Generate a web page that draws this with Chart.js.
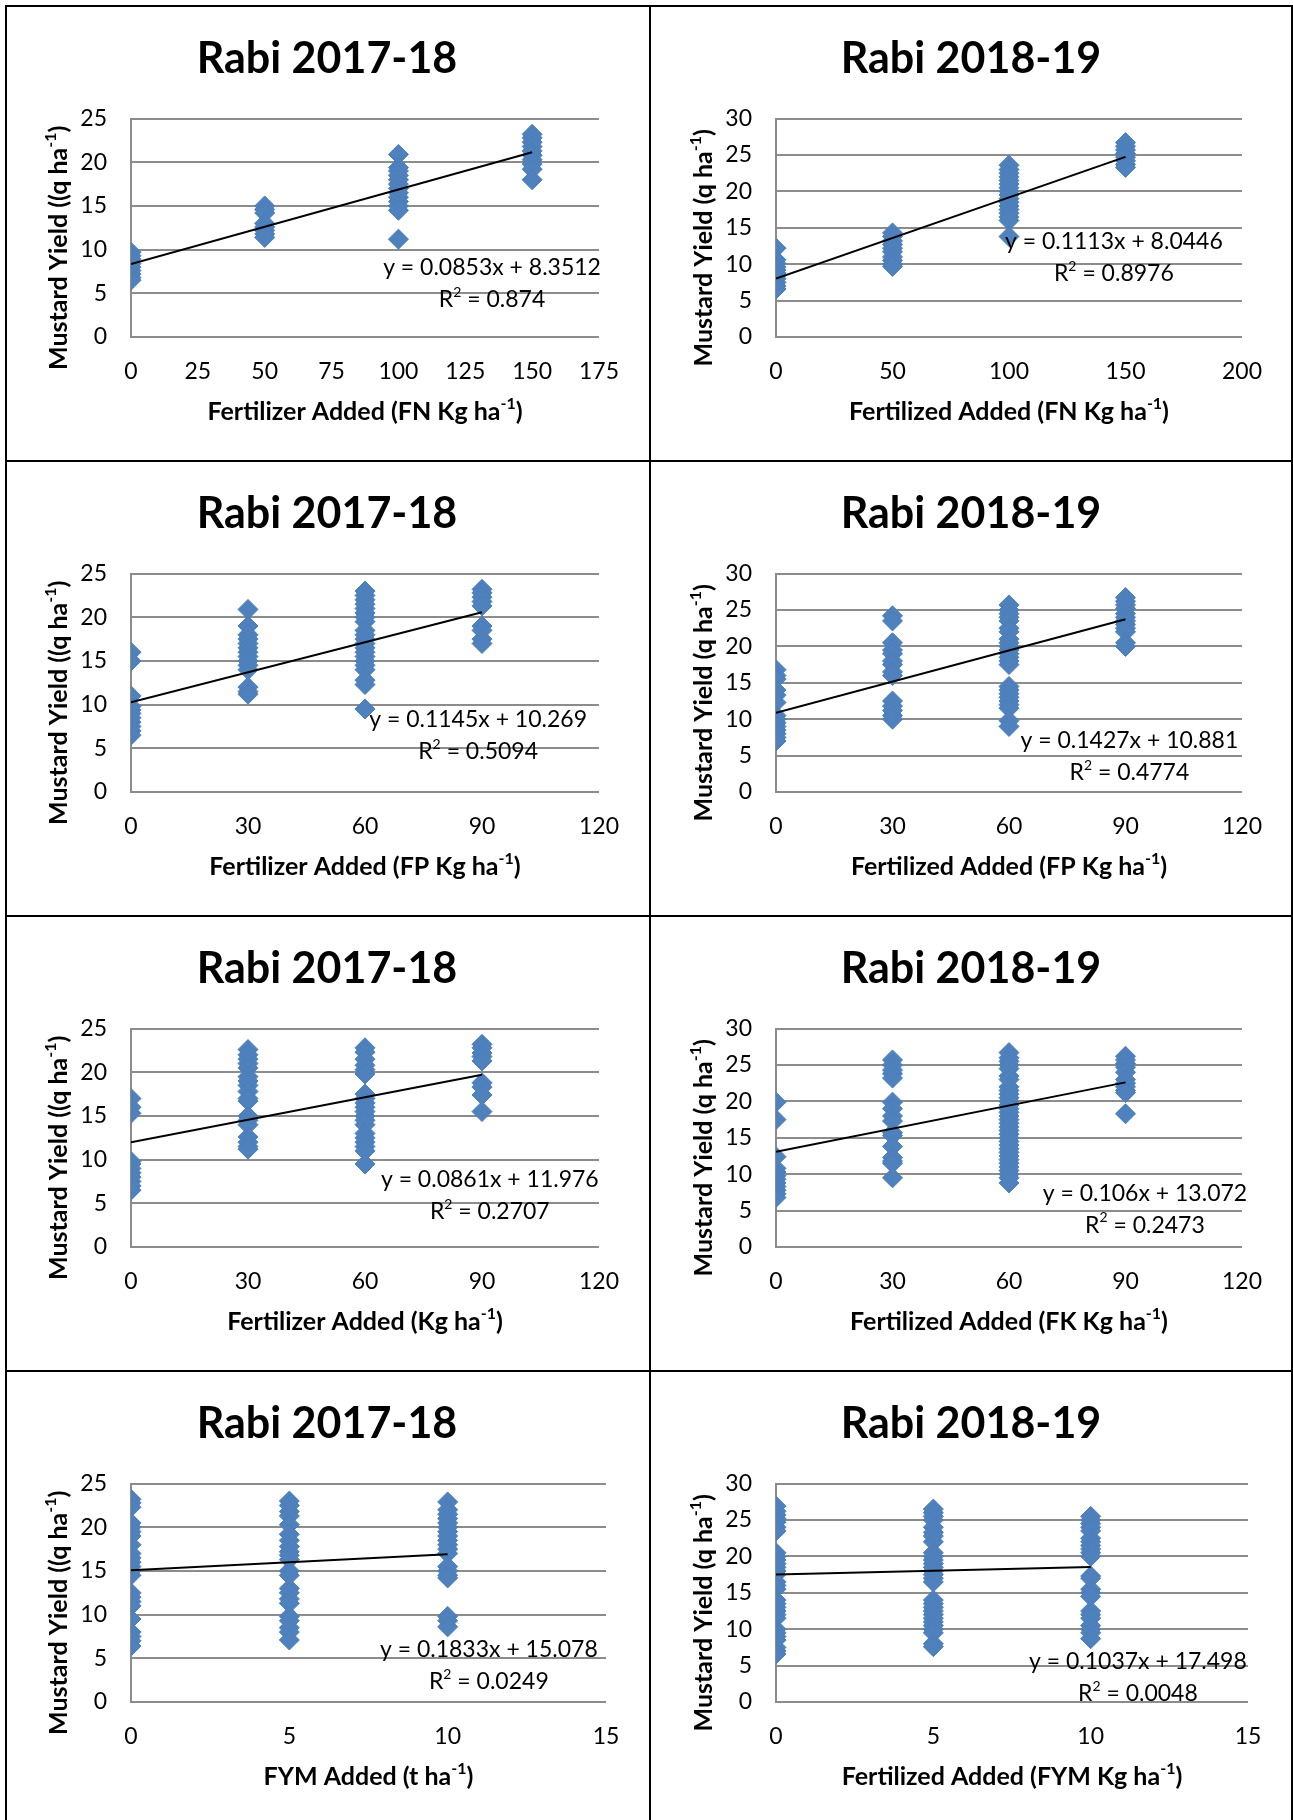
<!DOCTYPE html>
<html>
<head>
<meta charset="utf-8">
<script src="https://cdn.jsdelivr.net/npm/chart.js@4.4.0/dist/chart.umd.min.js"></script>
<style>
body{margin:0;background:#fff;width:1293px;height:1820px;overflow:hidden;position:relative}
.cell{position:absolute;border:2px solid #000;box-sizing:border-box}
canvas{position:absolute}
</style>
</head>
<body>
<script>
// yields (q/ha)

// N, 2017-18
const nLevels = [0, 50, 100, 150]
const n1718 = [
    [9.7, 9.3, 8.9, 8.4, 8.0, 7.6, 7.2, 6.8, 6.5],
    [15.0, 14.6, 14.2, 13.0, 12.6, 12.2, 11.8, 11.4],
    [20.9, 19.4, 19.0, 18.5, 18.0, 17.5, 17.0, 16.5, 16.0, 15.5, 15.0, 14.5, 11.2],
    [23.2, 22.8, 22.3, 21.8, 21.3, 20.8, 20.3, 19.8, 19.2, 18.0]
]
// N, 2018-19
const n1819 = [
    [12.2, 10.6, 10.1, 9.6, 9.2, 8.8, 8.4, 8.0, 7.5, 7.0, 6.6],
    [14.3, 13.8, 13.2, 12.7, 12.2, 11.7, 11.0, 10.5, 10.0, 9.7],
    [23.6, 23.0, 22.5, 22.0, 21.5, 21.0, 20.5, 20.0, 19.5, 19.0, 18.5, 18.0, 17.5, 17.0, 16.5, 16.0, 13.8],
    [26.7, 26.2, 25.7, 25.2, 24.7, 24.2, 23.7, 23.3]
]
// P and K levels
const pkLevels = [0, 30, 60, 90]
const p1718 = [
    [16.0, 15.0, 11.0, 9.8, 9.4, 9.0, 8.5, 8.0, 7.5, 7.0, 6.5],
    [20.9, 19.0, 18.0, 17.5, 17.0, 16.5, 16.0, 15.5, 15.0, 14.5, 14.0, 12.0, 11.5, 11.2],
    [23.0, 22.5, 22.0, 21.5, 21.0, 20.5, 20.0, 19.5, 18.5, 18.0, 17.5, 17.0, 16.5, 16.0, 15.5, 15.0, 14.5, 14.0, 12.8, 12.3, 9.5],
    [23.2, 22.8, 22.3, 21.8, 21.3, 19.0, 18.5, 17.5, 17.0]
]
const p1819 = [
    [16.8, 16.0, 15.5, 14.0, 13.3, 12.3, 10.5, 10.0, 9.5, 9.0, 8.5, 8.0, 7.5, 7.0],
    [24.2, 23.5, 20.5, 19.5, 19.0, 18.0, 17.5, 16.5, 16.0, 12.5, 11.8, 11.2, 10.5, 10.0],
    [25.7, 25.0, 24.5, 24.0, 23.5, 22.5, 22.0, 21.0, 20.5, 20.0, 19.5, 19.0, 18.5, 18.0, 17.5, 14.5, 14.0, 13.5, 13.0, 12.5, 12.0, 11.5, 9.8, 9.0],
    [26.7, 26.2, 25.7, 25.2, 24.5, 24.0, 23.5, 23.0, 22.5, 22.0, 20.5, 20.0]
]
const k1718 = [
    [17.0, 16.0, 15.3, 9.8, 9.5, 9.0, 8.5, 8.0, 7.5, 7.0, 6.5],
    [22.6, 22.0, 21.5, 21.0, 20.5, 19.5, 19.0, 18.5, 17.8, 17.0, 16.7, 15.0, 14.5, 14.0, 12.6, 12.0, 11.5, 11.2],
    [22.8, 22.3, 21.5, 20.8, 20.3, 19.8, 17.5, 17.0, 16.5, 16.0, 15.5, 15.0, 14.5, 14.0, 13.0, 12.5, 12.0, 11.5, 11.0, 9.5],
    [23.2, 22.8, 22.2, 21.8, 21.3, 18.8, 18.3, 17.4, 15.5]
]
const k1819 = [
    [19.9, 17.5, 12.4, 10.8, 10.3, 9.8, 9.3, 8.8, 8.3, 7.8, 7.3, 6.8],
    [25.7, 25.0, 24.3, 23.8, 23.2, 19.9, 19.0, 18.0, 17.3, 15.7, 15.3, 13.8, 12.3, 11.8, 11.5, 9.5],
    [26.7, 26.0, 25.5, 25.0, 24.5, 23.5, 23.0, 22.0, 21.5, 21.0, 20.5, 20.0, 19.5, 19.0, 18.5, 18.0, 17.5, 17.0, 16.5, 16.0, 15.5, 15.0, 14.5, 14.0, 13.5, 13.0, 12.5, 12.0, 11.5, 11.0, 10.5, 10.0, 9.5, 8.8],
    [26.2, 25.7, 25.2, 24.7, 24.0, 23.0, 22.5, 22.0, 21.5, 21.2, 18.3]
]
// FYM
const fymLevels = [0, 5, 10]
const fym1718 = [
    [23.2, 22.8, 22.3, 20.5, 20.0, 19.5, 19.0, 18.0, 17.0, 16.5, 16.0, 15.5, 15.0, 14.5, 12.5, 12.0, 11.5, 11.0, 9.5, 8.0, 7.5, 7.0, 6.4],
    [23.0, 22.5, 21.8, 21.3, 20.3, 19.2, 18.5, 17.8, 17.2, 16.8, 16.3, 15.0, 14.5, 13.0, 12.5, 11.8, 11.3, 9.8, 9.3, 8.5, 8.0, 7.1],
    [22.9, 22.0, 21.5, 21.0, 20.5, 20.0, 19.5, 19.0, 18.5, 18.0, 17.5, 17.0, 15.5, 15.0, 14.5, 14.2, 9.8, 9.3, 8.6]
]
const fym1819 = [
    [26.9, 26.2, 25.7, 25.2, 24.7, 24.0, 23.5, 20.5, 20.0, 19.5, 19.0, 18.5, 18.0, 17.5, 16.5, 16.0, 15.5, 14.0, 13.5, 13.0, 12.5, 12.0, 11.5, 10.0, 9.5, 9.0, 8.5, 7.5, 7.0, 6.6],
    [26.5, 26.0, 25.5, 25.0, 24.0, 23.3, 22.8, 22.0, 20.5, 20.0, 19.5, 19.0, 18.5, 18.0, 17.5, 17.0, 16.5, 14.0, 13.5, 13.0, 12.5, 12.0, 11.5, 11.0, 10.5, 10.0, 9.5, 8.0, 7.6],
    [25.5, 25.0, 24.5, 24.0, 23.5, 22.5, 22.0, 21.5, 21.0, 20.5, 20.0, 17.3, 17.0, 15.5, 15.0, 14.5, 12.5, 12.0, 11.5, 10.5, 10.0, 9.5, 8.7]
]

// trendline fits as printed on the charts: [slope, intercept]
const fits = [[0.0853, 8.3512], [0.1113, 8.0446], [0.1145, 10.269], [0.1427, 10.881],
              [0.0861, 11.976], [0.106, 13.072], [0.1833, 15.078], [0.1037, 17.498]]
const r2 = ['0.874', '0.8976', '0.5094', '0.4774', '0.2707', '0.2473', '0.0249', '0.0048']

const yTitle1718 = 'Mustard Yield ((q ha⁻¹)'
const yTitle1819 = 'Mustard Yield (q ha⁻¹)'

const panels = [
    {title:'Rabi 2017-18', levels:nLevels, yields:n1718, xMax:175, xStep:25, yMax:25, xTitle:'Fertilizer Added (FN Kg ha⁻¹)', yTitle:yTitle1718, eqAt:[135, 7.9]},
    {title:'Rabi 2018-19', levels:nLevels, yields:n1819, xMax:200, xStep:50, yMax:30, xTitle:'Fertilized Added (FN Kg ha⁻¹)', yTitle:yTitle1819, eqAt:[145, 13.1]},
    {title:'Rabi 2017-18', levels:pkLevels, yields:p1718, xMax:120, xStep:30, yMax:25, xTitle:'Fertilizer Added (FP Kg ha⁻¹)', yTitle:yTitle1718, eqAt:[89, 8.3]},
    {title:'Rabi 2018-19', levels:pkLevels, yields:p1819, xMax:120, xStep:30, yMax:30, xTitle:'Fertilized Added (FP Kg ha⁻¹)', yTitle:yTitle1819, eqAt:[91, 7.0]},
    {title:'Rabi 2017-18', levels:pkLevels, yields:k1718, xMax:120, xStep:30, yMax:25, xTitle:'Fertilizer Added (Kg ha⁻¹)', yTitle:yTitle1718, eqAt:[92, 7.7]},
    {title:'Rabi 2018-19', levels:pkLevels, yields:k1819, xMax:120, xStep:30, yMax:30, xTitle:'Fertilized Added (FK Kg ha⁻¹)', yTitle:yTitle1819, eqAt:[95, 7.4]},
    {title:'Rabi 2017-18', levels:fymLevels, yields:fym1718, xMax:15, xStep:5, yMax:25, xTitle:'FYM Added (t ha⁻¹)', yTitle:yTitle1718, eqAt:[11.3, 6.0]},
    {title:'Rabi 2018-19', levels:fymLevels, yields:fym1819, xMax:15, xStep:5, yMax:30, xTitle:'Fertilized Added (FYM Kg ha⁻¹)', yTitle:yTitle1819, eqAt:[11.5, 5.5]}
]

const W = 644, H = 455
const FONT = 'Lato'

// draws text centred on (cx,cy); ⁻ ¹ ² become raised small characters
const SUP = {'⁻':'-', '¹':'1', '²':'2'}
function richText(ctx, text, cx, cy, size, weight){
    let parts = []
    for (const ch of text){
        const sup = ch in SUP
        const c = sup ? SUP[ch] : ch
        if (parts.length && parts[parts.length-1].sup === sup) parts[parts.length-1].t += c
        else parts.push({t:c, sup:sup})
    }
    const supSize = Math.round(size*0.62)
    let w = 0
    parts.forEach(p => {
        ctx.font = `${weight} ${p.sup ? supSize : size}px ${FONT}`
        p.w = ctx.measureText(p.t).width
        w += p.w
    })
    let x = cx - w/2
    ctx.textAlign = 'left'
    ctx.textBaseline = 'middle'
    parts.forEach(p => {
        ctx.font = `${weight} ${p.sup ? supSize : size}px ${FONT}`
        ctx.fillText(p.t, x, p.sup ? cy - size*0.32 : cy)
        x += p.w
    })
}

const extras = {
    id: 'extras',
    afterDraw(chart, args, opts){
        const ctx = chart.ctx
        const a = chart.chartArea
        const sx = chart.scales.x, sy = chart.scales.y
        ctx.save()
        ctx.fillStyle = '#000'
        richText(ctx, sx.options.title.text, (a.left + a.right)/2, a.bottom + 75, 25, 'bold')
        ctx.save()
        ctx.translate(a.left - 72, (a.top + a.bottom)/2 + 20)
        ctx.rotate(-Math.PI/2)
        richText(ctx, sy.options.title.text, 0, 0, 25, 'bold')
        ctx.restore()
        const lx = sx.getPixelForValue(opts.at[0])
        const ly = sy.getPixelForValue(opts.at[1])
        richText(ctx, opts.lines[0], lx, ly, 23, 'normal')
        richText(ctx, opts.lines[1], lx, ly + 32, 23, 'normal')
        ctx.restore()
    }
}

function fmt(v){ return String(v) }

function makePanel(p, i){
    const col = i % 2, row = Math.floor(i / 2)
    const left = col == 0 ? 5 : 649
    const top = 5 + row*455
    const cell = document.createElement('div')
    cell.className = 'cell'
    cell.style.left = left + 'px'
    cell.style.top = top + 'px'
    cell.style.width = (col == 0 ? 646 : 644) + 'px'
    cell.style.height = '457px'
    document.body.appendChild(cell)

    const cv = document.createElement('canvas')
    cv.width = W
    cv.height = H
    cv.style.left = left + 'px'
    cv.style.top = top + 'px'
    document.body.appendChild(cv)

    let pts = []
    p.levels.forEach((lv, j) => p.yields[j].forEach(v => pts.push({x:lv, y:v})))
    const [m, b] = fits[i]
    const xEnd = p.levels[p.levels.length-1]
    const trend = [{x:0, y:b}, {x:xEnd, y:m*xEnd + b}]

    const areaLeft = col == 0 ? 126 : 127
    let areaRight = col == 0 ? 594 : 593
    if (row == 3) areaRight = col == 0 ? 601 : 599

    const tickFont = {family:FONT, size:23}
    new Chart(cv, {
        type: 'scatter',
        data: {datasets: [
            {type:'line', data:trend, borderColor:'#000', borderWidth:2, pointRadius:0, order:0},
            {data:pts, pointStyle:'rectRot', pointRadius:10, backgroundColor:'#4F81BD', borderColor:'#4A7EBB', borderWidth:1, order:1}
        ]},
        options: {
            responsive: false,
            animation: false,
            layout: {padding: 0},
            plugins: {
                legend: {display:false},
                tooltip: {enabled:false},
                title: {display:true, text:p.title, color:'#000',
                        font:{family:FONT, size:43, weight:'bold'}, padding:{top:28, bottom:34}},
                extras: {at:p.eqAt, lines:[`y = ${fmt(m)}x + ${fmt(b)}`, `R² = ${r2[i]}`]}
            },
            scales: {
                x: {type:'linear', min:0, max:p.xMax,
                    ticks:{stepSize:p.xStep, font:tickFont, color:'#000', padding:21},
                    grid:{display:false, drawTicks:false}, border:{display:false},
                    title:{display:false, text:p.xTitle},
                    afterFit(s){ s.height = H - 332 }},
                y: {min:0, max:p.yMax,
                    ticks:{stepSize:5, font:tickFont, color:'#000', padding:24},
                    grid:{color:'#8c8c8c', lineWidth:2, drawTicks:false},
                    border:{display:true, color:'#8c8c8c', width:2},
                    title:{display:false, text:p.yTitle},
                    afterFit(s){ s.width = areaLeft }},
                // empty right-hand strip so the plot ends where the original does
                pad: {type:'linear', position:'right', display:true,
                      grid:{display:false, drawTicks:false}, border:{display:false},
                      ticks:{display:false},
                      afterFit(s){ s.width = W - areaRight }}
            }
        },
        plugins: [extras]
    })
}

panels.forEach(makePanel)
</script>
</body>
</html>
